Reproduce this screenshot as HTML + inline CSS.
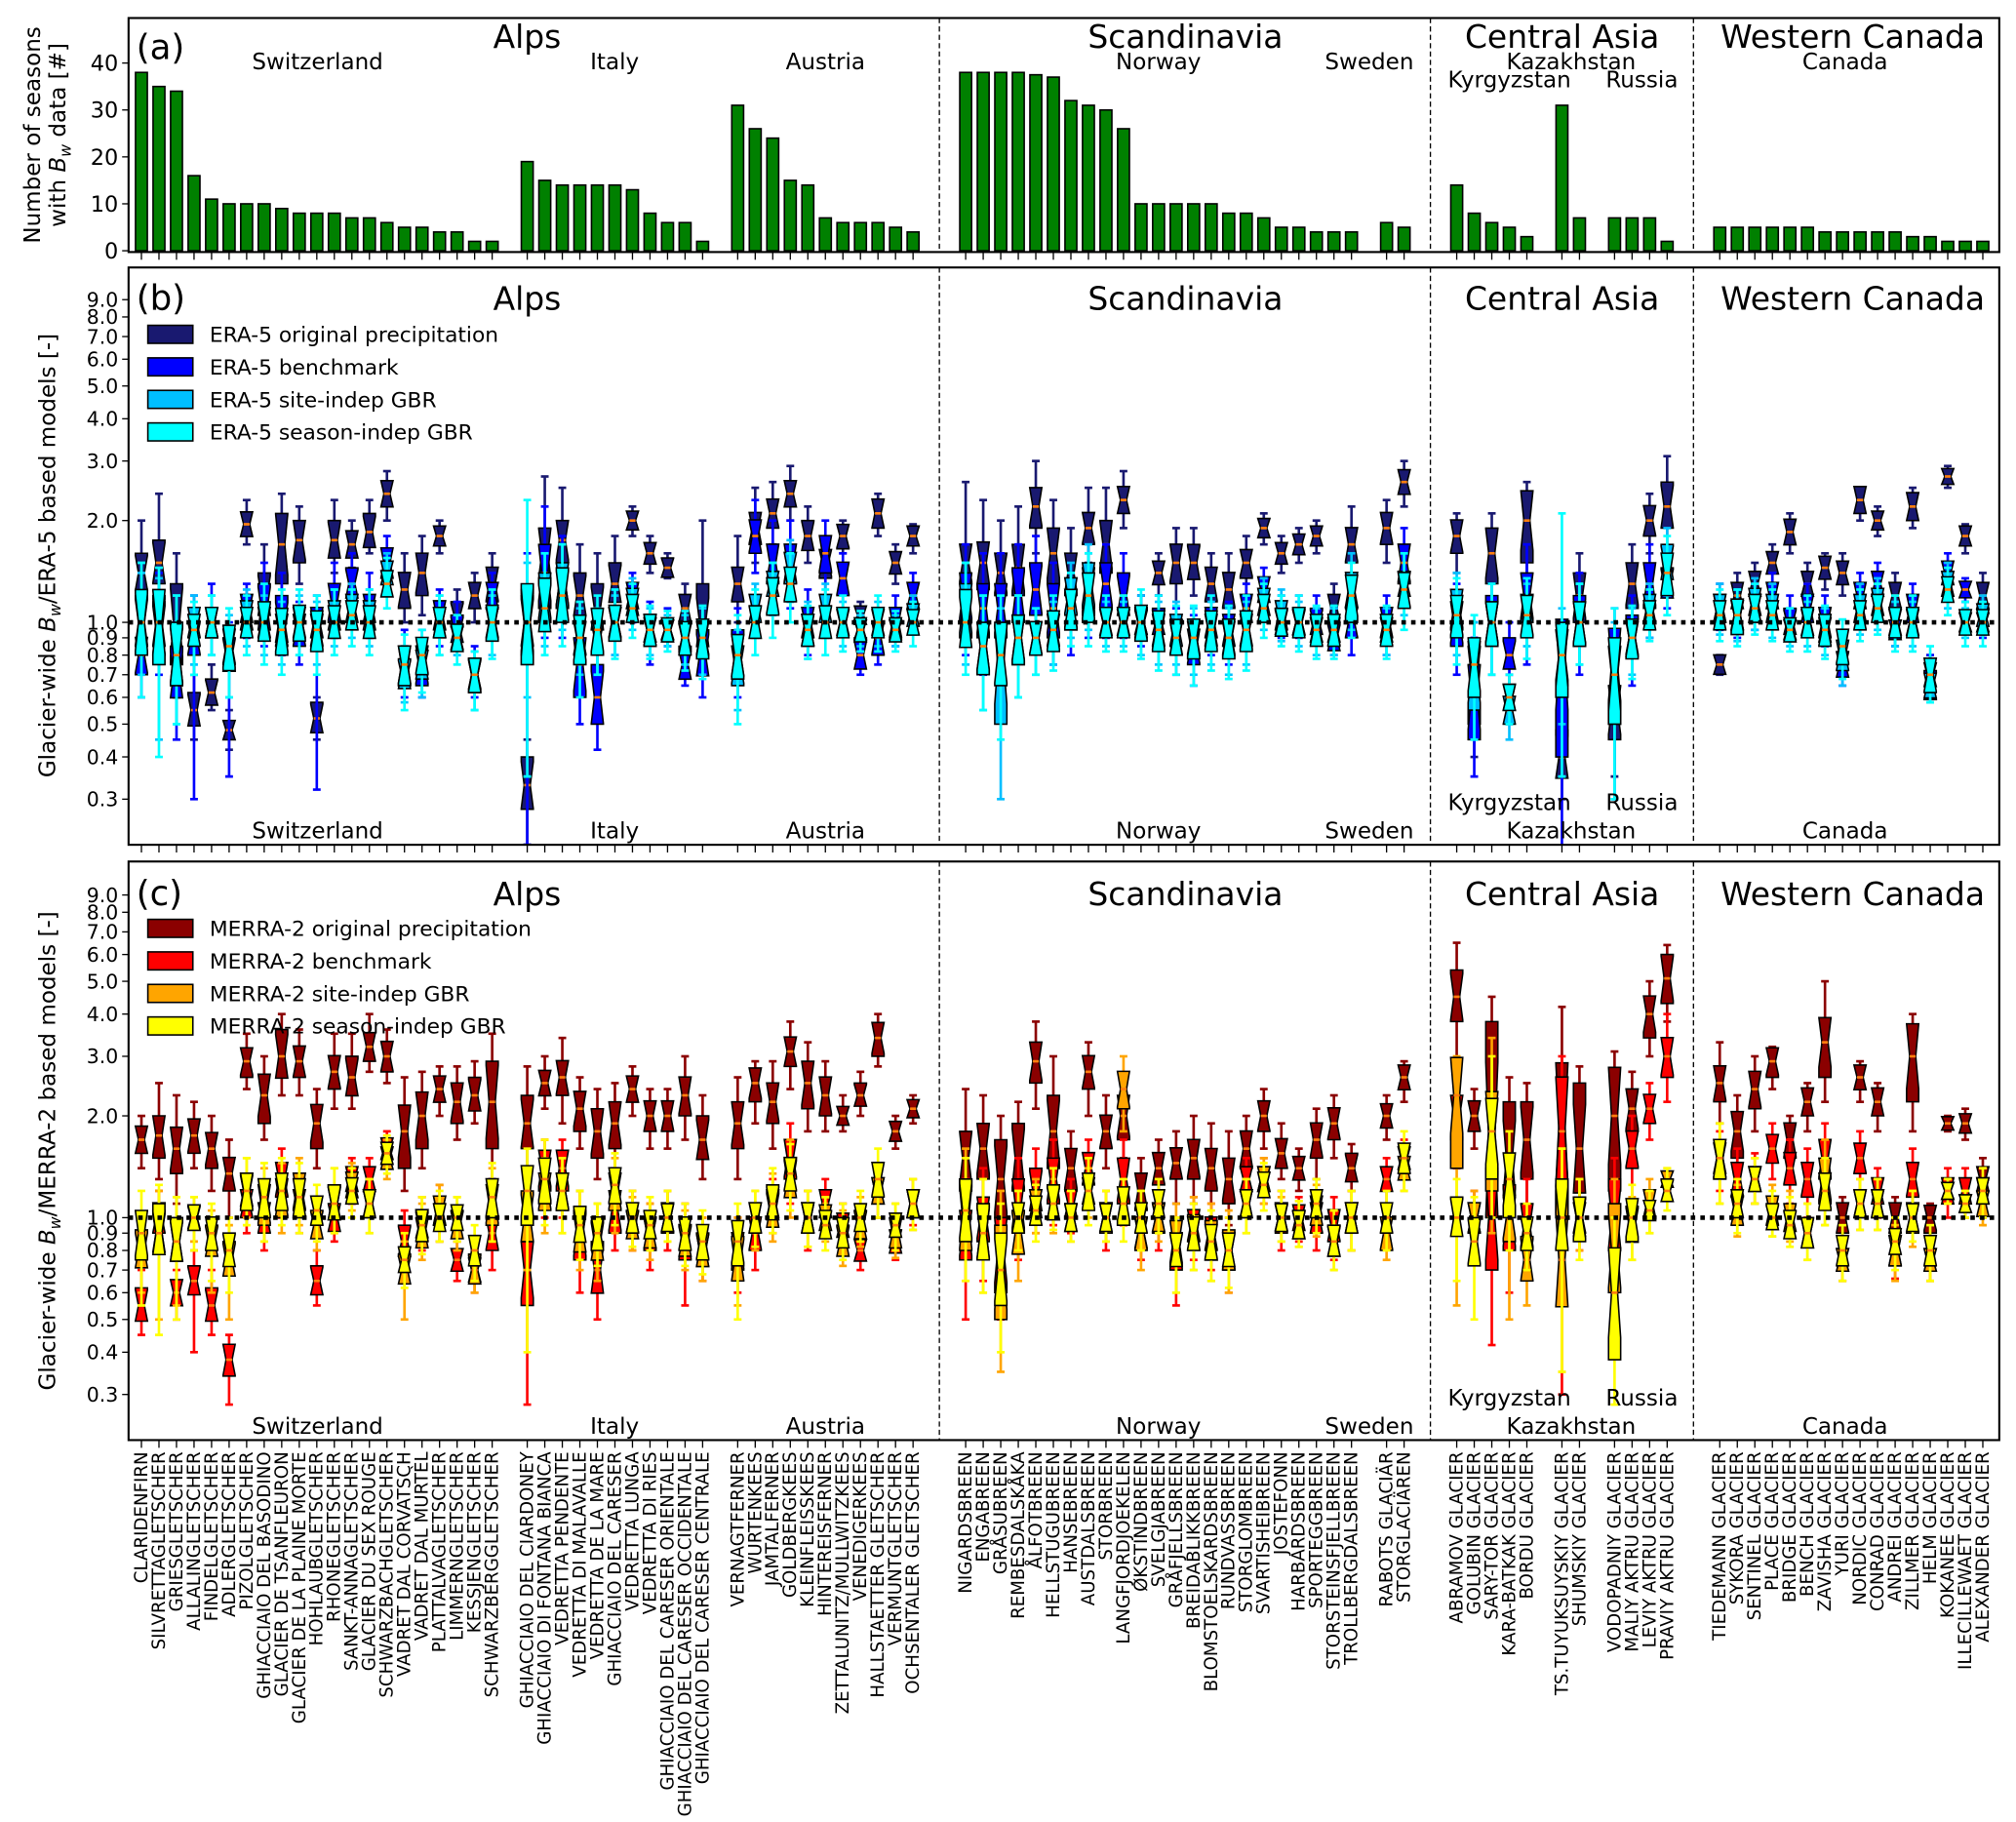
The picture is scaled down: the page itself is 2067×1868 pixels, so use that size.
<!DOCTYPE html>
<html><head><meta charset="utf-8">
<style>
html,body{margin:0;padding:0;background:#fff;}
svg{display:block;font-family:"DejaVu Sans","Liberation Sans",sans-serif;}
</style></head>
<body>
<svg id="fig" xmlns="http://www.w3.org/2000/svg" width="2067" height="1868" viewBox="0 0 1568 1417">
<rect x="0" y="0" width="1568" height="1417" fill="#fff"/>
<g id="layer"></g>
</svg>
<script>
// ---------- DATA ----------
const groupNames = ["Switzerland","Italy","Austria","Norway","Sweden","Kyrgyzstan","Kazakhstan","Russia","Canada"];
const groupSizes = [21,11,11,23,2,5,2,4,16];
const glacierNames = [
"CLARIDENFIRN","SILVRETTAGLETSCHER","GRIESGLETSCHER","ALLALINGLETSCHER","FINDELGLETSCHER","ADLERGLETSCHER","PIZOLGLETSCHER","GHIACCIAIO DEL BASODINO","GLACIER DE TSANFLEURON","GLACIER DE LA PLAINE MORTE","HOHLAUBGLETSCHER","RHONEGLETSCHER","SANKT-ANNAGLETSCHER","GLACIER DU SEX ROUGE","SCHWARZBACHGLETSCHER","VADRET DAL CORVATSCH","VADRET DAL MURTÈL","PLATTALVAGLETSCHER","LIMMERNGLETSCHER","KESSJENGLETSCHER","SCHWARZBERGGLETSCHER",
"GHIACCIAIO DEL CIARDONEY","GHIACCIAIO DI FONTANA BIANCA","VEDRETTA PENDENTE","VEDRETTA DI MALAVALLE","VEDRETTA DE LA MARE","GHIACCIAIO DEL CARESER","VEDRETTA LUNGA","VEDRETTA DI RIES","GHIACCIAIO DEL CARESER ORIENTALE","GHIACCIAIO DEL CARESER OCCIDENTALE","GHIACCIAIO DEL CARESER CENTRALE",
"VERNAGTFERNER","WURTENKEES","JAMTALFERNER","GOLDBERGKEES","KLEINFLEISSKEES","HINTEREISFERNER","ZETTALUNITZ/MULLWITZKEES","VENEDIGERKEES","HALLSTAETTER GLETSCHER","VERMUNTGLETSCHER","OCHSENTALER GLETSCHER",
"NIGARDSBREEN","ENGABREEN","GRÅSUBREEN","REMBESDALSKÅKA","ÅLFOTBREEN","HELLSTUGUBREEN","HANSEBREEN","AUSTDALSBREEN","STORBREEN","LANGFJORDJOEKELEN","ØKSTINDBREEN","SVELGJABREEN","GRÅFJELLSBREEN","BREIDABLIKKBREEN","BLOMSTOELSKARDSBREEN","RUNDVASSBREEN","STORGLOMBREEN","SVARTISHEIBREEN","JOSTEFONN","HARBARDSBREEN","SPORTEGGBREEN","STORSTEINSFJELLBREEN","TROLLBERGDALSBREEN",
"RABOTS GLACIÄR","STORGLACIÄREN",
"ABRAMOV GLACIER","GOLUBIN GLACIER","SARY-TOR GLACIER","KARA-BATKAK GLACIER","BORDU GLACIER",
"TS.TUYUKSUYSKIY GLACIER","SHUMSKIY GLACIER",
"VODOPADNIY GLACIER","MALIY AKTRU GLACIER","LEVIY AKTRU GLACIER","PRAVIY AKTRU GLACIER",
"TIEDEMANN GLACIER","SYKORA GLACIER","SENTINEL GLACIER","PLACE GLACIER","BRIDGE GLACIER","BENCH GLACIER","ZAVISHA GLACIER","YURI GLACIER","NORDIC GLACIER","CONRAD GLACIER","ANDREI GLACIER","ZILLMER GLACIER","HELM GLACIER","KOKANEE GLACIER","ILLECILLEWAET GLACIER","ALEXANDER GLACIER"];
const seasonCounts = [38,35,34,16,11,10,10,10,9,8,8,8,7,7,6,5,5,4,4,2,2, 19,15,14,14,14,14,13,8,6,6,2, 31,26,24,15,14,7,6,6,6,5,4, 38,38,38,38,37.5,37,32,31,30,26,10,10,10,10,10,8,8,7,5,5,4,4,4, 6,5, 14,8,6,5,3, 31,7, 7,7,7,2, 5,5,5,5,5,5,4,4,4,4,4,3,3,2,2,2];
const countTicks = [0,10,20,30,40];
const logTicks = [0.3,0.4,0.5,0.6,0.7,0.8,0.9,1,2,3,4,5,6,7,8,9];
const logTickLabels = ["0.3","0.4","0.5","0.6","0.7","0.8","0.9","1.0","2.0","3.0","4.0","5.0","6.0","7.0","8.0","9.0"];

// Panel b: ERA-5
const bOrigMed=[1.4,1.5,1.0,0.55,0.62,0.48,1.95,1.2,1.7,1.75,0.52,1.75,1.7,1.85,2.4,1.25,1.4,1.8,1.05,1.2,1.3, 0.33,1.6,1.75,1.2,1.1,1.3,2.0,1.6,1.45,1.1,1.0, 1.3,1.9,2.1,2.4,1.8,1.5,1.8,1.05,2.1,1.5,1.8, 1.5,1.5,1.4,1.45,2.2,1.6,1.4,1.9,1.7,2.3,1.0,1.4,1.5,1.5,1.3,1.25,1.5,1.9,1.6,1.7,1.8,1.1,1.7, 1.9,2.6, 1.8,0.7,1.6,0.6,2.0, 0.4,1.2, 0.55,1.3,2.0,2.2, 0.75,1.2,1.3,1.5,1.85,1.3,1.45,1.4,2.3,2.0,1.2,2.2,0.7,2.7,1.8,1.2];
const bOrigQ1=[1.25,1.3,0.75,0.5,0.58,0.45,1.8,1.05,1.3,1.5,0.48,1.55,1.55,1.7,2.2,1.1,1.2,1.7,1.0,1.1,1.15, 0.28,1.3,1.5,1.05,0.95,1.15,1.9,1.5,1.4,1.0,0.9, 1.15,1.7,1.9,2.2,1.65,1.35,1.65,1.0,1.9,1.4,1.7, 1.3,1.25,1.2,1.2,1.9,1.3,1.2,1.7,1.4,2.1,0.95,1.3,1.3,1.35,1.15,1.1,1.35,1.8,1.5,1.6,1.7,1.0,1.5, 1.7,2.4, 1.6,0.5,1.3,0.55,1.5, 0.35,1.0, 0.45,1.1,1.8,1.9, 0.72,1.1,1.2,1.4,1.7,1.2,1.35,1.3,2.1,1.9,1.1,2.0,0.65,2.6,1.7,1.1];
const bOrigQ3=[1.6,1.75,1.3,0.62,0.68,0.5,2.1,1.4,2.1,2.0,0.58,2.0,1.85,2.1,2.6,1.4,1.6,1.9,1.15,1.3,1.45, 0.4,1.9,2.0,1.4,1.3,1.5,2.1,1.7,1.55,1.2,1.3, 1.45,2.1,2.3,2.6,2.0,1.6,1.9,1.1,2.3,1.6,1.9, 1.7,1.7,1.6,1.7,2.5,1.9,1.6,2.1,2.0,2.5,1.1,1.5,1.7,1.7,1.45,1.4,1.6,2.0,1.7,1.8,1.9,1.2,1.9, 2.1,2.8, 2.0,0.85,1.9,0.65,2.4, 0.48,1.4, 0.65,1.5,2.2,2.6, 0.8,1.3,1.4,1.6,2.0,1.4,1.55,1.5,2.5,2.1,1.3,2.4,0.75,2.8,1.9,1.3];
const bOrigLo=[1.1,1.1,0.6,0.45,0.55,0.42,1.7,0.9,1.1,1.3,0.45,1.4,1.45,1.6,2.0,1.0,1.05,1.6,0.95,1.0,1.05, 0.22,1.1,1.3,0.9,0.85,1.0,1.8,1.4,1.35,0.95,0.8, 1.0,1.5,1.7,2.0,1.5,1.2,1.6,0.95,1.8,1.3,1.6, 1.1,1.05,1.0,1.0,1.6,1.1,1.0,1.5,1.2,1.9,0.9,1.2,1.1,1.2,1.05,1.0,1.2,1.7,1.4,1.5,1.6,0.95,1.3, 1.5,2.2, 1.4,0.4,1.1,0.5,1.2, 0.3,0.9, 0.35,0.9,1.6,1.6, 0.7,1.0,1.1,1.3,1.6,1.1,1.25,1.2,2.0,1.8,1.0,1.9,0.6,2.5,1.6,1.0];
const bOrigHi=[2.0,2.4,1.6,0.7,0.75,0.55,2.3,1.7,2.4,2.2,0.6,2.3,2.0,2.3,2.8,1.6,1.8,2.0,1.25,1.4,1.6, 0.45,2.7,2.5,1.7,1.6,1.8,2.2,1.8,1.6,1.3,2.0, 1.8,2.5,2.6,2.9,2.2,1.7,2.0,1.15,2.4,1.7,1.95, 2.6,2.3,2.0,2.2,3.0,2.3,1.9,2.5,2.5,2.8,1.2,1.6,1.9,1.9,1.6,1.6,1.8,2.1,1.8,1.9,2.0,1.3,2.2, 2.3,3.0, 2.1,1.0,2.1,0.7,2.6, 0.55,1.6, 0.75,1.7,2.4,3.1, 0.8,1.4,1.5,1.7,2.1,1.5,1.6,1.6,2.5,2.2,1.4,2.5,0.8,2.9,1.95,1.4];

const bBenchMed=[0.8,1.0,0.7,0.9,1.0,0.8,1.1,1.1,1.0,0.95,1.0,1.15,1.3,1.1,1.5,0.75,0.75,1.05,0.95,0.7,1.2, 1.0,1.4,1.3,0.75,0.6,1.0,1.2,0.95,0.95,0.75,0.8, 0.8,1.8,1.5,1.5,1.0,1.6,1.35,0.8,0.9,1.0,1.2, 1.2,1.1,1.1,1.2,1.25,1.1,1.1,1.25,1.3,1.2,1.0,1.0,0.9,0.85,1.0,0.95,1.1,1.25,1.0,1.0,1.0,0.9,1.0, 1.0,1.5, 1.0,0.6,1.0,0.8,1.2, 0.75,1.0, 0.75,0.9,1.3,1.3, 1.1,1.05,1.1,1.2,1.0,1.1,1.0,0.75,1.2,1.3,0.95,1.1,0.65,1.4,1.25,1.0];
const bBenchQ1=[0.7,0.85,0.6,0.8,0.9,0.72,1.0,0.95,0.9,0.85,0.9,1.0,1.2,1.0,1.35,0.65,0.65,0.95,0.9,0.65,1.1, 0.85,1.1,1.1,0.6,0.5,0.9,1.1,0.85,0.9,0.7,0.7, 0.7,1.6,1.3,1.3,0.9,1.4,1.2,0.75,0.8,0.9,1.1, 1.0,0.9,0.9,1.0,1.05,0.9,0.95,1.05,1.1,1.05,0.95,0.95,0.8,0.75,0.9,0.85,1.0,1.15,0.95,0.95,0.95,0.85,0.9, 0.9,1.3, 0.85,0.45,0.9,0.75,1.0, 0.4,0.85, 0.5,0.8,1.1,1.2, 1.0,0.95,1.0,1.1,0.95,1.0,0.9,0.7,1.1,1.2,0.9,1.0,0.6,1.3,1.2,0.95];
const bBenchQ3=[0.9,1.2,0.85,1.0,1.1,0.9,1.2,1.3,1.2,1.05,1.1,1.3,1.45,1.2,1.65,0.85,0.85,1.15,1.05,0.78,1.3, 1.2,1.7,1.5,0.9,0.75,1.1,1.3,1.05,1.0,0.85,0.95, 0.95,2.0,1.7,1.7,1.1,1.8,1.5,0.9,1.0,1.1,1.3, 1.4,1.3,1.3,1.45,1.5,1.3,1.25,1.45,1.5,1.4,1.1,1.1,1.0,0.95,1.1,1.05,1.2,1.35,1.1,1.1,1.1,1.0,1.1, 1.1,1.7, 1.15,0.75,1.2,0.9,1.4, 0.85,1.2, 0.9,1.05,1.5,1.45, 1.2,1.15,1.2,1.3,1.1,1.2,1.1,0.82,1.3,1.4,1.0,1.2,0.72,1.5,1.3,1.05];
const bBenchLo=[0.6,0.7,0.45,0.3,0.8,0.35,0.9,0.85,0.8,0.75,0.32,0.9,1.1,0.9,1.2,0.6,0.6,0.85,0.85,0.6,1.0, 0.22,0.9,0.9,0.5,0.42,0.8,1.0,0.75,0.85,0.65,0.6, 0.6,1.4,1.1,1.1,0.8,1.2,1.1,0.7,0.75,0.85,1.0, 0.8,0.7,0.7,0.8,0.85,0.75,0.8,0.9,0.9,0.9,0.85,0.85,0.7,0.65,0.8,0.75,0.9,1.05,0.9,0.9,0.9,0.8,0.8, 0.8,1.2, 0.7,0.35,0.7,0.7,0.75, 0.2,0.7, 0.3,0.65,0.9,1.1, 0.95,0.9,0.95,1.0,0.9,0.95,0.85,0.65,1.0,1.1,0.85,0.95,0.6,1.25,1.15,0.9];
const bBenchHi=[1.0,1.4,1.0,1.2,1.3,1.0,1.3,1.5,1.4,1.15,1.2,1.5,1.6,1.4,1.8,0.95,0.95,1.25,1.15,0.85,1.4, 1.6,2.2,1.8,1.05,0.9,1.25,1.4,1.15,1.1,0.95,1.1, 1.1,2.3,2.0,2.0,1.25,2.0,1.6,0.95,1.05,1.2,1.4, 1.7,1.6,1.6,1.7,1.8,1.5,1.4,1.6,1.7,1.6,1.2,1.2,1.1,1.05,1.2,1.15,1.3,1.45,1.2,1.2,1.2,1.1,1.25, 1.2,1.9, 1.3,0.9,1.3,1.0,1.7, 1.0,1.4, 1.1,1.2,1.7,1.6, 1.3,1.25,1.3,1.4,1.2,1.3,1.2,0.9,1.4,1.5,1.1,1.3,0.8,1.6,1.35,1.1];

const bSiteMed=[1.0,0.95,0.8,1.0,1.0,0.85,1.05,1.0,0.95,1.0,0.95,1.05,1.1,1.05,1.4,0.7,0.75,1.0,0.9,0.7,1.0, 1.0,1.2,1.3,0.9,0.9,1.0,1.15,0.95,0.95,0.9,0.9, 0.75,1.1,1.3,1.45,0.95,1.1,1.0,0.95,1.0,0.95,1.05, 1.1,0.85,0.75,0.9,0.9,0.95,1.2,1.3,1.0,1.0,1.0,0.95,0.95,0.9,0.95,0.9,0.95,1.15,1.05,1.0,0.95,0.95,1.25, 0.95,1.3, 1.1,0.7,1.0,0.55,1.1, 0.8,1.0, 0.7,0.9,1.1,1.5, 1.1,1.05,1.15,1.1,0.95,1.0,0.95,0.8,1.1,1.15,1.0,1.0,0.65,1.3,1.0,1.05];
const bSiteQ1=[0.85,0.8,0.65,0.9,0.9,0.75,0.95,0.9,0.85,0.9,0.85,0.95,1.0,0.95,1.3,0.65,0.68,0.9,0.85,0.62,0.9, 0.8,1.0,1.1,0.8,0.8,0.9,1.05,0.88,0.9,0.82,0.8, 0.65,1.0,1.2,1.3,0.85,1.0,0.92,0.9,0.92,0.9,0.98, 0.9,0.7,0.5,0.75,0.8,0.85,1.05,1.1,0.92,0.92,0.9,0.85,0.85,0.8,0.85,0.8,0.85,1.05,0.95,0.92,0.88,0.88,1.1, 0.88,1.2, 0.95,0.55,0.85,0.5,1.0, 0.65,0.85, 0.55,0.8,1.0,1.35, 1.0,0.95,1.05,1.0,0.9,0.92,0.88,0.72,1.0,1.05,0.92,0.92,0.6,1.2,0.95,0.98];
const bSiteQ3=[1.2,1.15,1.0,1.1,1.1,0.95,1.15,1.1,1.05,1.1,1.05,1.15,1.2,1.15,1.5,0.78,0.82,1.1,0.98,0.76,1.1, 1.25,1.4,1.5,1.0,1.0,1.1,1.25,1.02,1.0,0.98,1.0, 0.85,1.2,1.4,1.6,1.05,1.2,1.08,1.0,1.08,1.0,1.12, 1.3,1.0,0.95,1.05,1.0,1.05,1.35,1.5,1.08,1.08,1.1,1.05,1.05,1.0,1.05,1.0,1.05,1.25,1.15,1.08,1.02,1.02,1.4, 1.02,1.4, 1.25,0.85,1.15,0.6,1.2, 0.95,1.15, 0.85,1.0,1.2,1.7, 1.2,1.15,1.25,1.2,1.0,1.08,1.02,0.88,1.2,1.25,1.08,1.08,0.7,1.4,1.05,1.12];
const bSiteLo=[0.7,0.45,0.5,0.75,0.8,0.6,0.85,0.8,0.75,0.8,0.75,0.85,0.9,0.85,1.2,0.58,0.6,0.8,0.8,0.55,0.8, 0.6,0.85,0.95,0.7,0.7,0.8,0.95,0.8,0.85,0.75,0.7, 0.55,0.9,1.05,1.15,0.78,0.9,0.85,0.85,0.85,0.85,0.92, 0.75,0.55,0.3,0.6,0.7,0.75,0.9,0.95,0.85,0.85,0.8,0.75,0.75,0.7,0.75,0.7,0.75,0.95,0.88,0.85,0.8,0.8,0.95, 0.8,1.05, 0.8,0.45,0.7,0.45,0.85, 0.5,0.75, 0.3,0.7,0.9,1.2, 0.92,0.88,0.95,0.9,0.85,0.85,0.8,0.65,0.92,0.95,0.85,0.85,0.58,1.1,0.9,0.92];
const bSiteHi=[1.4,1.35,1.2,1.2,1.2,1.05,1.25,1.2,1.15,1.2,1.15,1.25,1.3,1.25,1.6,0.85,0.88,1.2,1.05,0.82,1.2, 1.5,1.6,1.7,1.1,1.1,1.2,1.35,1.1,1.05,1.05,1.1, 0.95,1.3,1.5,1.75,1.15,1.3,1.15,1.05,1.15,1.05,1.2, 1.5,1.2,1.1,1.2,1.1,1.15,1.5,1.7,1.15,1.15,1.2,1.15,1.15,1.1,1.15,1.1,1.15,1.35,1.25,1.15,1.1,1.1,1.6, 1.1,1.6, 1.4,1.0,1.3,0.65,1.3, 1.1,1.3, 1.0,1.1,1.3,1.9, 1.3,1.25,1.35,1.3,1.1,1.15,1.1,0.95,1.3,1.35,1.15,1.15,0.75,1.5,1.1,1.2];

const bSeasMed=[1.0,1.0,0.8,0.95,1.0,0.85,1.0,1.0,0.95,1.0,0.95,1.0,1.05,1.0,1.3,0.75,0.8,1.0,0.9,0.7,1.0, 1.0,1.1,1.2,0.9,0.95,1.0,1.1,0.95,0.95,0.9,0.9, 0.8,1.0,1.2,1.3,0.95,1.0,1.0,0.95,1.0,0.95,1.0, 1.0,0.85,0.8,0.9,0.9,0.95,1.1,1.2,1.0,1.0,1.0,0.95,0.9,0.9,0.95,0.9,0.95,1.1,1.0,1.0,0.95,0.95,1.2, 0.95,1.25, 1.05,0.75,1.0,0.6,1.05, 0.8,1.0, 0.7,0.9,1.05,1.4, 1.05,1.05,1.1,1.05,0.95,1.0,0.95,0.85,1.05,1.1,1.0,1.0,0.7,1.25,1.0,1.0];
const bSeasQ1=[0.8,0.75,0.65,0.85,0.9,0.72,0.9,0.88,0.8,0.88,0.82,0.9,0.95,0.9,1.2,0.65,0.7,0.9,0.82,0.62,0.88, 0.75,0.95,1.0,0.75,0.8,0.88,1.0,0.85,0.88,0.8,0.78, 0.68,0.9,1.05,1.15,0.85,0.9,0.9,0.88,0.9,0.88,0.92, 0.85,0.7,0.65,0.75,0.8,0.82,0.95,1.0,0.9,0.9,0.88,0.82,0.8,0.78,0.82,0.78,0.82,1.0,0.92,0.9,0.85,0.85,1.0, 0.85,1.1, 0.9,0.6,0.85,0.55,0.9, 0.6,0.85, 0.5,0.78,0.95,1.2, 0.95,0.92,1.0,0.95,0.88,0.9,0.85,0.75,0.95,1.0,0.9,0.9,0.62,1.15,0.92,0.92];
const bSeasQ3=[1.25,1.25,1.0,1.05,1.1,0.98,1.1,1.15,1.1,1.12,1.08,1.12,1.15,1.12,1.42,0.85,0.9,1.1,0.98,0.78,1.12, 1.3,1.35,1.45,1.05,1.1,1.12,1.2,1.05,1.02,1.0,1.02, 0.92,1.12,1.35,1.45,1.05,1.12,1.1,1.02,1.1,1.02,1.08, 1.25,1.0,1.0,1.05,1.0,1.08,1.25,1.4,1.1,1.1,1.12,1.08,1.02,1.02,1.08,1.02,1.08,1.2,1.1,1.1,1.05,1.05,1.35, 1.05,1.4, 1.2,0.9,1.15,0.65,1.2, 1.0,1.15, 0.9,1.02,1.15,1.6, 1.15,1.15,1.2,1.15,1.02,1.1,1.05,0.95,1.15,1.2,1.1,1.1,0.78,1.35,1.08,1.08];
const bSeasLo=[0.6,0.4,0.5,0.7,0.8,0.6,0.8,0.75,0.7,0.8,0.7,0.8,0.85,0.8,1.1,0.55,0.62,0.8,0.75,0.55,0.78, 0.35,0.8,0.85,0.6,0.7,0.78,0.9,0.78,0.82,0.72,0.68, 0.5,0.8,0.9,1.0,0.78,0.8,0.82,0.82,0.82,0.82,0.85, 0.7,0.55,0.45,0.6,0.7,0.72,0.85,0.85,0.82,0.82,0.78,0.72,0.7,0.65,0.72,0.68,0.72,0.9,0.85,0.82,0.78,0.78,0.9, 0.78,0.95, 0.75,0.45,0.7,0.5,0.78, 0.35,0.75, 0.3,0.68,0.88,1.05, 0.88,0.85,0.92,0.88,0.82,0.82,0.78,0.68,0.88,0.92,0.82,0.82,0.58,1.05,0.85,0.85];
const bSeasHi=[1.5,1.45,1.2,1.15,1.2,1.1,1.2,1.3,1.25,1.25,1.2,1.25,1.25,1.25,1.55,0.92,0.95,1.2,1.05,0.82,1.25, 2.3,1.6,1.7,1.15,1.2,1.25,1.3,1.12,1.08,1.08,1.12, 1.05,1.25,1.5,1.6,1.12,1.25,1.2,1.08,1.2,1.08,1.15, 1.5,1.2,1.2,1.2,1.1,1.2,1.4,1.6,1.2,1.2,1.25,1.2,1.12,1.12,1.2,1.12,1.2,1.3,1.2,1.2,1.12,1.12,1.5, 1.12,1.6, 1.35,1.05,1.3,0.7,1.35, 2.1,1.3, 1.1,1.12,1.25,1.8, 1.25,1.25,1.3,1.25,1.1,1.2,1.12,1.02,1.25,1.3,1.2,1.2,0.85,1.45,1.15,1.15];

// Panel c: MERRA-2
const cOrigMed=[1.7,1.75,1.6,1.75,1.6,1.35,2.9,2.3,3.0,2.9,1.9,2.7,2.6,3.2,3.0,1.8,2.0,2.4,2.2,2.3,2.2, 1.9,2.5,2.6,2.1,1.8,1.9,2.4,2.0,2.0,2.3,1.7, 1.9,2.5,2.2,3.1,2.5,2.3,2.0,2.3,3.4,1.8,2.1, 1.5,1.6,1.3,1.5,2.9,1.8,1.4,2.7,1.8,2.0,1.2,1.4,1.45,1.5,1.4,1.3,1.6,2.0,1.55,1.4,1.7,1.9,1.4, 2.0,2.6, 4.5,2.0,1.7,1.5,1.7, 1.9,1.6, 2.0,2.1,4.0,5.1, 2.5,1.8,2.4,2.9,1.7,2.2,3.3,1.0,2.6,2.2,1.0,3.0,1.0,1.9,1.9,1.3];
const cOrigQ1=[1.55,1.5,1.35,1.55,1.4,1.2,2.6,1.9,2.6,2.6,1.6,2.4,2.3,2.9,2.7,1.4,1.6,2.2,1.9,2.1,1.6, 1.6,2.3,2.3,1.8,1.5,1.6,2.2,1.8,1.8,2.0,1.5, 1.6,2.2,1.9,2.8,2.1,2.0,1.9,2.2,3.0,1.7,2.0, 1.2,1.3,1.0,1.2,2.5,1.4,1.2,2.4,1.6,1.7,1.05,1.25,1.3,1.3,1.2,1.1,1.4,1.8,1.4,1.3,1.5,1.7,1.3, 1.85,2.4, 3.8,1.8,1.0,1.2,1.3, 1.0,1.2, 1.2,1.8,3.4,4.3, 2.2,1.5,2.1,2.6,1.5,2.0,2.6,0.9,2.4,2.0,0.9,2.2,0.9,1.85,1.8,1.2];
const cOrigQ3=[1.85,2.0,1.85,1.95,1.75,1.5,3.1,2.6,3.6,3.2,2.1,3.0,3.0,3.5,3.3,2.1,2.3,2.6,2.5,2.6,2.9, 2.3,2.7,2.9,2.3,2.1,2.2,2.6,2.2,2.2,2.6,2.0, 2.2,2.7,2.5,3.4,2.9,2.6,2.1,2.5,3.7,1.9,2.2, 1.8,1.9,1.7,1.9,3.3,2.3,1.6,3.0,2.0,2.3,1.35,1.55,1.6,1.7,1.6,1.5,1.8,2.2,1.7,1.5,1.9,2.1,1.55, 2.15,2.8, 5.4,2.2,3.8,2.2,2.2, 2.8,2.5, 2.7,2.4,4.4,6.0, 2.8,2.0,2.7,3.1,1.9,2.4,3.8,1.1,2.8,2.4,1.1,3.7,1.05,1.95,2.0,1.4];
const cOrigLo=[1.4,1.3,1.1,1.4,1.2,1.0,2.4,1.7,2.3,2.3,1.4,2.1,2.1,2.7,2.5,1.2,1.4,2.0,1.7,1.9,1.3, 1.3,2.1,1.9,1.6,1.3,1.4,2.0,1.6,1.6,1.7,1.3, 1.3,1.9,1.6,2.4,1.8,1.8,1.8,2.0,2.8,1.6,1.9, 0.9,1.0,0.8,0.95,2.1,1.1,1.0,2.0,1.4,1.5,0.95,1.1,1.1,1.1,1.0,0.95,1.2,1.6,1.3,1.2,1.3,1.5,1.2, 1.7,2.2, 2.9,1.6,0.8,1.0,1.0, 0.8,1.0, 0.9,1.5,3.0,3.8, 1.9,1.3,1.8,2.4,1.3,1.8,2.2,0.85,2.2,1.8,0.85,1.8,0.85,1.8,1.7,1.1];
const cOrigHi=[2.0,2.5,2.3,2.2,2.0,1.7,3.5,3.0,4.0,3.6,2.4,3.5,3.5,4.0,3.6,2.6,2.7,2.8,2.8,2.9,3.5, 2.8,3.0,3.4,2.6,2.4,2.5,2.8,2.4,2.4,3.0,2.3, 2.6,2.9,2.9,3.8,3.3,2.9,2.3,2.7,4.0,2.0,2.3, 2.4,2.3,2.0,2.2,3.8,3.0,1.8,3.3,2.3,2.6,1.5,1.7,1.8,2.0,1.9,1.8,2.0,2.4,1.9,1.6,2.1,2.3,1.65, 2.3,2.9, 6.5,2.4,4.5,2.6,2.5, 4.2,2.8, 3.1,2.7,5.0,6.4, 3.3,2.3,3.0,3.2,2.0,2.5,5.0,1.15,2.9,2.5,1.15,4.0,1.1,2.0,2.1,1.5];

const cBenchMed=[0.55,1.0,0.6,0.65,0.55,0.38,1.1,1.0,1.3,1.1,0.65,1.0,1.3,1.3,1.6,0.85,0.95,1.05,0.75,0.7,0.9, 0.7,1.4,1.4,0.9,0.7,1.05,1.0,0.9,1.0,0.85,0.8, 0.8,0.9,1.1,1.5,1.0,1.1,0.95,0.8,1.2,0.85,1.1, 0.9,1.0,0.8,1.1,1.2,1.3,1.1,1.4,1.0,1.3,0.9,1.0,0.8,0.95,0.9,0.8,1.3,1.3,1.0,1.0,1.0,0.95,1.0, 1.3,1.5, 2.0,1.0,1.0,1.0,0.95, 1.8,1.0, 1.0,1.6,2.1,3.0, 1.5,1.3,1.3,1.6,1.4,1.3,1.5,0.75,1.5,1.2,0.8,1.3,0.75,1.2,1.2,1.2];
const cBenchQ1=[0.5,0.9,0.55,0.6,0.5,0.34,1.0,0.9,1.15,1.0,0.6,0.92,1.2,1.2,1.5,0.78,0.9,0.95,0.7,0.65,0.8, 0.55,1.2,1.2,0.75,0.6,0.9,0.9,0.8,0.9,0.75,0.72, 0.7,0.8,1.0,1.3,0.9,1.0,0.88,0.75,1.1,0.8,1.0, 0.75,0.85,0.6,0.9,1.05,1.1,1.0,1.25,0.9,1.1,0.82,0.9,0.7,0.85,0.8,0.7,1.2,1.2,0.9,0.92,0.9,0.85,0.9, 1.2,1.4, 1.7,0.9,0.7,0.8,0.8, 1.0,0.9, 0.8,1.4,1.9,2.6, 1.35,1.15,1.2,1.45,1.25,1.15,1.3,0.7,1.35,1.1,0.72,1.15,0.7,1.1,1.1,1.1];
const cBenchQ3=[0.62,1.1,0.65,0.72,0.62,0.42,1.2,1.1,1.45,1.2,0.72,1.1,1.4,1.4,1.7,0.95,1.05,1.15,0.8,0.75,1.0, 0.85,1.55,1.55,1.05,0.85,1.2,1.1,1.0,1.1,0.95,0.9, 0.9,1.0,1.2,1.7,1.1,1.2,1.02,0.85,1.3,0.92,1.2, 1.05,1.15,1.0,1.3,1.4,1.5,1.2,1.55,1.1,1.5,1.0,1.1,0.9,1.05,1.0,0.9,1.4,1.4,1.1,1.08,1.1,1.05,1.1, 1.4,1.6, 2.3,1.1,1.4,1.25,1.1, 2.5,1.1, 1.3,1.8,2.3,3.4, 1.65,1.45,1.4,1.75,1.55,1.45,1.7,0.8,1.65,1.3,0.88,1.45,0.8,1.3,1.3,1.3];
const cBenchLo=[0.45,0.8,0.5,0.4,0.45,0.28,0.9,0.8,1.0,0.9,0.55,0.85,1.1,1.1,1.4,0.7,0.8,0.85,0.65,0.6,0.7, 0.28,1.0,1.0,0.6,0.5,0.8,0.8,0.7,0.8,0.55,0.65, 0.6,0.7,0.9,1.1,0.8,0.9,0.8,0.7,1.0,0.75,0.95, 0.5,0.65,0.5,0.75,0.9,0.95,0.9,1.1,0.8,0.95,0.75,0.8,0.55,0.75,0.7,0.6,1.1,1.1,0.8,0.85,0.8,0.75,0.8, 1.1,1.3, 1.4,0.8,0.42,0.6,0.7, 0.3,0.8, 0.6,0.9,1.7,2.2, 1.2,1.0,1.1,1.3,1.1,1.0,1.1,0.65,1.2,1.0,0.66,1.0,0.65,1.0,1.0,1.0];
const cBenchHi=[0.7,1.2,0.7,0.8,0.7,0.45,1.3,1.2,1.6,1.3,0.8,1.2,1.5,1.5,1.8,1.05,1.15,1.25,0.85,0.8,1.1, 1.0,1.7,1.7,1.2,1.0,1.35,1.2,1.1,1.2,1.1,1.0, 1.0,1.1,1.3,1.9,1.2,1.3,1.1,0.9,1.4,1.0,1.3, 1.3,1.4,1.2,1.5,1.6,1.7,1.3,1.7,1.2,1.7,1.1,1.2,1.0,1.15,1.1,1.0,1.5,1.5,1.2,1.15,1.2,1.15,1.2, 1.5,1.7, 2.6,1.2,1.8,1.5,1.3, 3.0,1.3, 1.5,2.0,2.5,4.0, 1.8,1.6,1.55,1.9,1.7,1.6,1.9,0.85,1.8,1.4,0.95,1.6,0.85,1.4,1.4,1.4];

const cSiteMed=[0.8,0.9,0.85,1.0,0.85,0.75,1.2,1.1,1.15,1.2,0.95,1.1,1.25,1.1,1.5,0.7,0.9,1.05,0.95,0.7,1.1, 1.0,1.2,1.2,0.9,0.85,1.2,0.95,0.9,1.0,0.85,0.8, 0.75,1.0,1.05,1.3,1.0,1.0,0.85,0.95,1.2,0.9,1.1, 1.0,0.9,0.7,0.9,1.1,1.1,1.0,1.2,1.0,2.4,0.9,1.0,0.85,0.9,0.85,0.8,1.1,1.3,1.0,0.95,1.05,0.85,1.0, 0.9,1.4, 2.3,1.0,1.8,1.0,0.75, 0.75,1.0, 0.8,0.95,1.1,1.3, 1.5,1.05,1.3,1.05,1.0,0.9,1.3,0.75,1.1,1.1,0.8,1.0,0.75,1.2,1.1,1.1];
const cSiteQ1=[0.72,0.8,0.75,0.95,0.78,0.68,1.1,0.95,1.0,1.05,0.88,1.0,1.15,1.0,1.4,0.65,0.82,0.95,0.88,0.65,0.95, 0.85,1.05,1.05,0.8,0.75,1.05,0.88,0.82,0.92,0.78,0.72, 0.65,0.9,0.95,1.15,0.9,0.92,0.78,0.88,1.1,0.82,1.0, 0.8,0.75,0.5,0.78,1.0,1.0,0.92,1.1,0.9,2.1,0.8,0.92,0.72,0.8,0.75,0.7,1.0,1.2,0.92,0.88,0.95,0.78,0.9, 0.8,1.3, 1.4,0.9,1.2,0.85,0.65, 0.55,0.88, 0.6,0.85,1.0,1.25, 1.3,0.95,1.2,0.95,0.92,0.82,1.1,0.7,1.0,1.0,0.72,0.9,0.7,1.15,1.05,1.02];
const cSiteQ3=[0.92,1.05,1.0,1.08,0.95,0.85,1.35,1.25,1.3,1.35,1.05,1.25,1.35,1.2,1.6,0.78,1.0,1.15,1.05,0.78,1.25, 1.2,1.35,1.35,1.05,0.98,1.35,1.05,1.0,1.1,0.95,0.9, 0.88,1.1,1.2,1.5,1.1,1.08,0.95,1.05,1.3,1.0,1.2, 1.3,1.1,0.95,1.05,1.2,1.25,1.1,1.3,1.1,2.7,1.0,1.1,0.98,1.02,0.98,0.92,1.2,1.4,1.08,1.05,1.15,0.95,1.1, 1.0,1.5, 2.6,1.1,2.3,1.15,0.88, 1.2,1.15, 1.1,1.08,1.2,1.35, 1.7,1.15,1.4,1.15,1.1,1.0,1.5,0.8,1.2,1.2,0.88,1.1,0.8,1.25,1.15,1.2];
const cSiteLo=[0.6,0.5,0.55,0.85,0.6,0.5,1.0,0.85,0.9,0.95,0.8,0.9,1.05,0.9,1.3,0.5,0.75,0.85,0.8,0.6,0.85, 0.7,0.9,0.9,0.7,0.65,0.9,0.8,0.75,0.85,0.7,0.65, 0.55,0.8,0.85,1.0,0.82,0.85,0.72,0.82,1.0,0.76,0.92, 0.65,0.6,0.35,0.65,0.9,0.9,0.85,1.0,0.85,1.8,0.7,0.85,0.6,0.7,0.65,0.6,0.9,1.1,0.85,0.82,0.88,0.7,0.8, 0.75,1.2, 0.55,0.8,0.9,0.5,0.55, 0.35,0.8, 0.45,0.75,0.9,1.2, 1.1,0.88,1.1,0.88,0.85,0.75,0.95,0.65,0.92,0.92,0.65,0.82,0.65,1.1,1.0,0.95];
const cSiteHi=[1.0,1.2,1.15,1.15,1.05,0.95,1.5,1.4,1.45,1.5,1.15,1.4,1.45,1.3,1.7,0.85,1.1,1.25,1.15,0.85,1.4, 1.4,1.5,1.5,1.2,1.1,1.5,1.15,1.1,1.2,1.05,1.0, 1.0,1.2,1.35,1.7,1.2,1.15,1.05,1.15,1.4,1.1,1.3, 1.6,1.3,1.2,1.2,1.3,1.4,1.2,1.4,1.2,3.0,1.1,1.2,1.1,1.15,1.1,1.05,1.3,1.5,1.15,1.12,1.25,1.05,1.2, 1.1,1.6, 3.0,1.2,3.4,1.3,1.0, 1.6,1.3, 1.3,1.15,1.3,1.4, 1.9,1.25,1.5,1.25,1.2,1.1,1.7,0.85,1.3,1.3,0.95,1.2,0.85,1.3,1.2,1.3];

const cSeasMed=[0.9,0.9,0.85,1.0,0.9,0.8,1.2,1.15,1.2,1.15,1.05,1.1,1.2,1.1,1.55,0.75,0.95,1.0,1.0,0.8,1.15, 1.2,1.3,1.2,0.95,0.9,1.25,1.0,0.95,1.0,0.9,0.85, 0.85,1.0,1.1,1.35,1.0,0.95,0.9,1.0,1.3,0.95,1.1, 1.05,0.9,0.7,1.0,1.05,1.1,1.0,1.2,1.0,1.1,1.0,1.1,0.8,0.9,0.85,0.8,1.1,1.25,1.0,0.95,1.1,0.85,1.0, 1.0,1.5, 1.0,0.85,1.8,1.3,0.9, 1.0,1.0, 0.6,1.0,1.05,1.2, 1.5,1.1,1.3,1.0,0.95,0.9,1.2,0.8,1.1,1.1,0.85,1.0,0.8,1.2,1.1,1.2];
const cSeasQ1=[0.75,0.8,0.75,0.92,0.8,0.72,1.05,1.0,1.05,1.0,0.95,1.0,1.1,1.0,1.45,0.7,0.85,0.92,0.92,0.72,1.0, 0.95,1.1,1.05,0.85,0.8,1.1,0.9,0.88,0.92,0.8,0.75, 0.72,0.9,1.0,1.2,0.9,0.88,0.82,0.92,1.15,0.88,1.0, 0.85,0.75,0.55,0.9,0.95,1.0,0.92,1.05,0.92,0.95,0.9,1.0,0.72,0.8,0.75,0.72,1.0,1.15,0.92,0.88,1.0,0.78,0.9, 0.9,1.35, 0.88,0.72,1.3,1.0,0.8, 0.8,0.85, 0.38,0.85,1.0,1.15, 1.3,1.0,1.2,0.95,0.88,0.82,1.05,0.72,1.0,1.0,0.78,0.92,0.72,1.15,1.05,1.1];
const cSeasQ3=[1.05,1.1,1.0,1.08,1.0,0.9,1.35,1.3,1.35,1.3,1.15,1.25,1.3,1.2,1.65,0.82,1.05,1.1,1.08,0.88,1.3, 1.4,1.5,1.35,1.08,1.0,1.4,1.1,1.05,1.1,1.0,0.95, 0.98,1.1,1.25,1.5,1.1,1.05,1.0,1.1,1.45,1.02,1.2, 1.3,1.1,0.9,1.1,1.15,1.25,1.1,1.35,1.1,1.2,1.1,1.2,0.9,1.0,0.95,0.9,1.2,1.35,1.1,1.05,1.2,0.95,1.1, 1.1,1.65, 1.15,1.0,2.2,1.5,1.0, 1.3,1.15, 0.8,1.12,1.12,1.3, 1.7,1.2,1.4,1.1,1.05,1.0,1.35,0.88,1.2,1.2,0.92,1.1,0.88,1.25,1.15,1.3];
const cSeasLo=[0.55,0.45,0.5,0.8,0.65,0.6,0.95,0.85,0.95,0.9,0.85,0.9,1.0,0.9,1.35,0.62,0.78,0.85,0.85,0.65,0.85, 0.4,0.95,0.9,0.75,0.72,0.95,0.82,0.8,0.85,0.72,0.68, 0.5,0.82,0.9,1.05,0.82,0.8,0.75,0.85,1.0,0.8,0.92, 0.65,0.6,0.4,0.8,0.85,0.92,0.85,0.95,0.85,0.85,0.8,0.9,0.6,0.7,0.65,0.62,0.9,1.05,0.85,0.82,0.9,0.7,0.8, 0.8,1.2, 0.65,0.5,1.0,0.8,0.7, 0.35,0.75, 0.28,0.75,0.9,1.05, 1.1,0.9,1.1,0.88,0.82,0.75,0.95,0.65,0.92,0.92,0.7,0.85,0.65,1.1,1.0,1.0];
const cSeasHi=[1.2,1.25,1.15,1.15,1.1,1.0,1.5,1.45,1.5,1.45,1.25,1.4,1.4,1.3,1.75,0.9,1.15,1.2,1.15,0.95,1.45, 1.6,1.7,1.5,1.2,1.1,1.55,1.2,1.15,1.2,1.1,1.05, 1.1,1.2,1.4,1.65,1.2,1.15,1.1,1.2,1.6,1.1,1.3, 1.5,1.3,1.1,1.2,1.25,1.4,1.2,1.5,1.2,1.3,1.2,1.3,1.0,1.1,1.05,1.0,1.3,1.45,1.2,1.12,1.3,1.05,1.2, 1.2,1.8, 1.3,1.15,3.0,1.8,1.1, 1.6,1.3, 1.0,1.25,1.2,1.4, 1.9,1.3,1.5,1.2,1.15,1.1,1.5,0.95,1.3,1.3,1.0,1.2,0.95,1.3,1.2,1.4];

// ---------- LAYOUT ----------
const NS="http://www.w3.org/2000/svg";
const layer=document.getElementById('layer');
const X0=110, DX=13.64, AXL=100, AXR=1555;
const groupStart=[0,22,34,47,71,75,81,84,90];
const slots=[];
groupSizes.forEach((n,g)=>{for(let i=0;i<n;i++)slots.push(groupStart[g]+i);});
function xOf(i){return X0+slots[i]*DX;}
function xSlot(s){return X0+s*DX;}
function el(tag,attrs,parent){const e=document.createElementNS(NS,tag);for(const k in attrs)e.setAttribute(k,attrs[k]);(parent||layer).appendChild(e);return e;}
function txt(str,attrs,parent){const e=el('text',attrs,parent);e.textContent=str;return e;}

const panels={a:{top:14,bot:196},b:{top:208,bot:657,one:484},c:{top:670,bot:1120,one:947}};
const DEC=263;
function yA(v){return 195-3.65*v;}
function yLog(p,v){return panels[p].one-DEC*Math.log10(v);}

// ---------- PANEL A ----------
const gA=el('g',{});


seasonCounts.forEach((v,i)=>{
  const x=xOf(i), y=yA(v);
  const r=el('rect',{x:x-4.6,y:y,width:9.2,height:yA(0)-y,fill:'#008000',stroke:'#000','stroke-width':1.2},gA);
  
  
});
countTicks.forEach(t=>{
  const y=yA(t);
  el('line',{x1:AXL-5,x2:AXL,y1:y,y2:y,stroke:'#000','stroke-width':1},gA);
  const lb=txt(String(t),{x:AXL-8,y:y+6,'text-anchor':'end','font-size':17},gA);
  
  
});

// ---------- BOX PANELS ----------
const seriesB=[
 {name:'ERA-5 original precipitation',fill:'#191970',med:bOrigMed,q1:bOrigQ1,q3:bOrigQ3,lo:bOrigLo,hi:bOrigHi},
 {name:'ERA-5 benchmark',fill:'#0000ff',med:bBenchMed,q1:bBenchQ1,q3:bBenchQ3,lo:bBenchLo,hi:bBenchHi},
 {name:'ERA-5 site-indep GBR',fill:'#00bfff',med:bSiteMed,q1:bSiteQ1,q3:bSiteQ3,lo:bSiteLo,hi:bSiteHi},
 {name:'ERA-5 season-indep GBR',fill:'#00ffff',med:bSeasMed,q1:bSeasQ1,q3:bSeasQ3,lo:bSeasLo,hi:bSeasHi}];
const seriesC=[
 {name:'MERRA-2 original precipitation',fill:'#8b0000',med:cOrigMed,q1:cOrigQ1,q3:cOrigQ3,lo:cOrigLo,hi:cOrigHi},
 {name:'MERRA-2 benchmark',fill:'#ff0000',med:cBenchMed,q1:cBenchQ1,q3:cBenchQ3,lo:cBenchLo,hi:cBenchHi},
 {name:'MERRA-2 site-indep GBR',fill:'#ffa500',med:cSiteMed,q1:cSiteQ1,q3:cSiteQ3,lo:cSiteLo,hi:cSiteHi},
 {name:'MERRA-2 season-indep GBR',fill:'#ffff00',med:cSeasMed,q1:cSeasQ1,q3:cSeasQ3,lo:cSeasLo,hi:cSeasHi}];

function drawBoxPanel(p,series){
  const P=panels[p];
  const clip=el('clipPath',{id:'clip-'+p});
  el('rect',{x:AXL,y:P.top,width:AXR-AXL,height:P.bot-P.top},clip);
  const g=el('g',{'clip-path':'url(#clip-'+p+')'});
  
  
  series.forEach((s,si)=>{
    const sg=el('g',{},g);
    
    
    s.med.forEach((m,i)=>{
      const x=xOf(i), w=9.4, h=w/2;
      const yq1=yLog(p,s.q1[i]), yq3=yLog(p,s.q3[i]), ym=yLog(p,m);
      const ylo=yLog(p,s.lo[i]), yhi=yLog(p,s.hi[i]);
      el('line',{x1:x,x2:x,y1:yhi,y2:yq3,stroke:s.fill,'stroke-width':2},sg);
      el('line',{x1:x,x2:x,y1:yq1,y2:ylo,stroke:s.fill,'stroke-width':2},sg);
      el('line',{x1:x-3,x2:x+3,y1:yhi,y2:yhi,stroke:s.fill,'stroke-width':2},sg);
      el('line',{x1:x-3,x2:x+3,y1:ylo,y2:ylo,stroke:s.fill,'stroke-width':2},sg);
      const nh=Math.min(0.75*(yq1-yq3)/2+3,(yq1-yq3));
      const nt=ym-nh, nb=ym+nh;
      const pts=[[x-h,Math.min(yq3,nt)],[x+h,Math.min(yq3,nt)],[x+h,nt],[x+h/2,ym],[x+h,nb],[x+h,Math.max(yq1,nb)],[x-h,Math.max(yq1,nb)],[x-h,nb],[x-h/2,ym],[x-h,nt]];
      const b=el('polygon',{points:pts.map(q=>q[0].toFixed(1)+','+q[1].toFixed(1)).join(' '),fill:s.fill,stroke:'#000','stroke-width':1.2},sg);
      
      
      el('line',{x1:x-h/2,x2:x+h/2,y1:ym,y2:ym,stroke:'#ff7f0e','stroke-width':2},sg);
    });
  });
  const ref=el('line',{x1:AXL,x2:AXR,y1:yLog(p,1),y2:yLog(p,1),stroke:'#000','stroke-width':3.5,'stroke-dasharray':'3.5,4'});
  
  
  logTicks.forEach((t,k)=>{
    const y=yLog(p,t);
    el('line',{x1:AXL-5,x2:AXL,y1:y,y2:y,stroke:'#000','stroke-width':1});
    const lb=txt(logTickLabels[k],{x:AXL-8,y:y+5.5,'text-anchor':'end','font-size':15.5});
    
    
  });
  const lg=el('g',{});
  
  
  series.forEach((s,si)=>{
    const y=P.top+52+si*25.3;
    el('rect',{x:115,y:y-7,width:35,height:14,fill:s.fill,stroke:'#000','stroke-width':1.2},lg);
    const t=txt(s.name,{x:163,y:y+6,'font-size':16.5},lg);
    
    
  });
}
drawBoxPanel('b',seriesB);
drawBoxPanel('c',seriesC);

// ---------- FRAMES, DIVIDERS, TICKS ----------
const dividers=[45.5,73.5,88.5];
['a','b','c'].forEach(p=>{
  const P=panels[p];
  dividers.forEach(d=>{
    const dl=el('line',{x1:xSlot(d),x2:xSlot(d),y1:P.top,y2:P.bot,stroke:'#000','stroke-width':1,'stroke-dasharray':'4,2.5'});
    
    
  });
  const fr=el('rect',{x:AXL,y:P.top,width:AXR-AXL,height:P.bot-P.top,fill:'none',stroke:'#000','stroke-width':1.6});
  
  
  glacierNames.forEach((n,i)=>{
    el('line',{x1:xOf(i),x2:xOf(i),y1:P.bot,y2:P.bot+6,stroke:'#000','stroke-width':1});
  });
});

// ---------- TEXT LABELS ----------
function label(str,x,y,size,name,anchor){const t=txt(str,{x:x,y:y,'font-size':size,'text-anchor':anchor||'middle'});return t;}
label('(a)',106,46,27,'panel-label-a','start');
label('(b)',106,241,27,'panel-label-b','start');
label('(c)',106,704,27,'panel-label-c','start');
const regions=[['Alps',410],['Scandinavia',922],['Central Asia',1215],['Western Canada',1441]];
[[37,'a'],[241,'b'],[704,'c']].forEach(([y,p])=>regions.forEach(([r,x])=>label(r,x,y,25,'region-title-'+p)));
label('Switzerland',247,54,17.5,'country-label');label('Italy',478,54,17.5,'country-label');label('Austria',642,54,17.5,'country-label');
label('Norway',901,54,17.5,'country-label');label('Sweden',1065,54,17.5,'country-label');label('Kazakhstan',1222,54,17.5,'country-label');
label('Kyrgyzstan',1174,68,17.5,'country-label');label('Russia',1277,68,17.5,'country-label');label('Canada',1435,54,17.5,'country-label');
[[652,630],[1115,1093]].forEach(([y1,y2])=>{
  label('Switzerland',247,y1,17.5,'country-label');label('Italy',478,y1,17.5,'country-label');label('Austria',642,y1,17.5,'country-label');
  label('Norway',901,y1,17.5,'country-label');label('Sweden',1065,y1,17.5,'country-label');label('Kazakhstan',1222,y1,17.5,'country-label');
  label('Kyrgyzstan',1174,y2,17.5,'country-label');label('Russia',1277,y2,17.5,'country-label');label('Canada',1435,y1,17.5,'country-label');
});
function yTitle(lines,cx,cy,name){
  const g=el('g',{transform:'rotate(-90 '+cx+' '+cy+')'});
  
  lines.forEach((ln,k)=>{
    const t=el('text',{x:cx,y:cy+6+k*20-(lines.length-1)*10,'text-anchor':'middle','font-size':17.5},g);
    t.innerHTML=ln;
  });
}
yTitle(['Number of seasons','with <tspan font-style="italic">B</tspan><tspan font-style="italic" font-size="12" dy="4">w</tspan><tspan dy="-4"> data [#]</tspan>'],35,105,'y-axis-title-a');
yTitle(['Glacier-wide <tspan font-style="italic">B</tspan><tspan font-style="italic" font-size="12" dy="4">w</tspan><tspan dy="-4">/ERA-5 based models [-]</tspan>'],37,432,'y-axis-title-b');
yTitle(['Glacier-wide <tspan font-style="italic">B</tspan><tspan font-style="italic" font-size="12" dy="4">w</tspan><tspan dy="-4">/MERRA-2 based models [-]</tspan>'],37,895,'y-axis-title-c');
glacierNames.forEach((n,i)=>{
  const x=xOf(i)+4.5, y=1129;
  const t=txt(n,{x:x,y:y,transform:'rotate(-90 '+x+' '+y+')','text-anchor':'end','font-size':13.8});
  
  
});
</script>
</body></html>
